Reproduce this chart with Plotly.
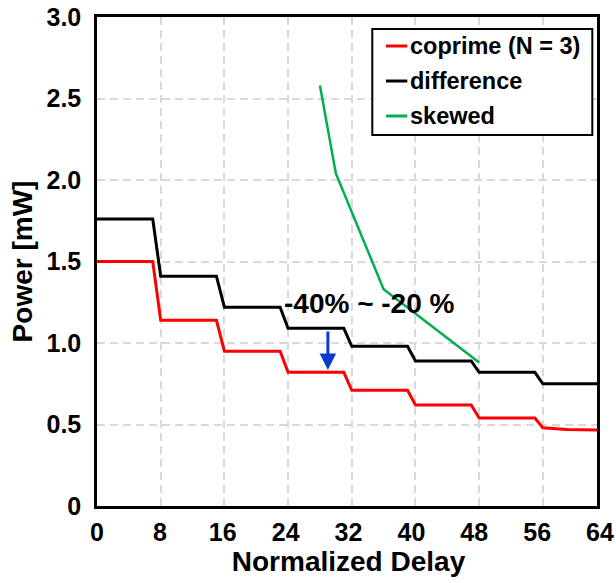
import plotly.graph_objects as go

# ---- data -------------------------------------------------------------
# staircase traces: each level is held until one unit before the next
# multiple of 8, then drops to the new level.
delay = [0, 7, 8, 15, 16, 23, 24, 31, 32, 39, 40, 47, 48, 55, 56, 64]
difference_power = [1.76, 1.76, 1.41, 1.41, 1.22, 1.22, 1.09, 1.09,
                    0.98, 0.98, 0.89, 0.89, 0.82, 0.82, 0.75, 0.75]

coprime_delay = [0, 7, 8, 15, 16, 23, 24, 31, 32, 39, 40, 47, 48, 55, 56, 59, 64]
coprime_power = [1.50, 1.50, 1.14, 1.14, 0.95, 0.95, 0.82, 0.82,
                 0.71, 0.71, 0.62, 0.62, 0.54, 0.54, 0.48, 0.47, 0.466]

skewed_delay = [28, 30, 36, 48]
skewed_power = [2.58, 2.04, 1.33, 0.88]

x_ticks = [0, 8, 16, 24, 32, 40, 48, 56, 64]
x_tick_text = ["0", "8", "16", "24", "32", "40", "48", "56", "64"]
y_ticks = [0, 0.5, 1.0, 1.5, 2.0, 2.5, 3.0]
y_tick_text = ["0", "0.5", "1.0", "1.5", "2.0", "2.5", "3.0"]

series_names = ["coprime (N = 3)", "difference", "skewed"]
series_colors = ["#ff0000", "#000000", "#00b050"]

FONT = "Liberation Sans, Arial, sans-serif"
GRID = "#d9d9d9"

fig = go.Figure()

# data subplot: xaxis2 / yaxis
fig.add_trace(go.Scatter(x=coprime_delay, y=coprime_power, mode="lines",
                         name=series_names[0], xaxis="x2", yaxis="y",
                         line=dict(color=series_colors[0], width=3)))
fig.add_trace(go.Scatter(x=delay, y=difference_power, mode="lines",
                         name=series_names[1], xaxis="x2", yaxis="y",
                         line=dict(color=series_colors[1], width=3)))
fig.add_trace(go.Scatter(x=skewed_delay, y=skewed_power, mode="lines",
                         name=series_names[2], xaxis="x2", yaxis="y",
                         line=dict(color=series_colors[2], width=2.5)))
# tick-label subplot: xaxis / yaxis2 (holds only the 0..64 labels and title)
fig.add_trace(go.Scatter(x=[], y=[], xaxis="x", yaxis="y2",
                         hoverinfo="skip", showlegend=False))

# ---- annotations --------------------------------------------------------
annotations = [
    dict(x=34.25, y=1.245, xref="x2", yref="y", text="-40% ~ -20 %",
         showarrow=False,
         font=dict(family=FONT, size=28, color="black", weight="bold")),
    dict(x=29, y=0.835, xref="x2", yref="y", ax=29, ay=1.08,
         axref="x2", ayref="y", text="", showarrow=True,
         arrowhead=2, arrowsize=1.1, arrowwidth=3, arrowcolor="#0a3ccc"),
]

# ---- legend box ---------------------------------------------------------
shapes = [
    dict(type="rect", xref="paper", yref="paper",
         x0=0.5473, x1=0.9847, y0=0.7587, y1=0.9755,
         line=dict(color="black", width=2), fillcolor="white", layer="above"),
]
legend_rows = [0.9407, 0.8691, 0.7975]
for name, color, yy in zip(series_names, series_colors, legend_rows):
    shapes.append(dict(type="line", xref="paper", yref="paper",
                       x0=0.5746, x1=0.6169, y0=yy, y1=yy,
                       line=dict(color=color, width=3), layer="above"))
    annotations.append(dict(x=0.6190, y=yy, xref="paper", yref="paper",
                            text=name, showarrow=False,
                            xanchor="left", yanchor="middle",
                            font=dict(family=FONT, size=23.5, color="black",
                                      weight="bold")))

fig.update_layout(
    width=616, height=583,
    margin=dict(l=97, r=16, t=17, b=77),
    paper_bgcolor="white",
    plot_bgcolor="rgba(0,0,0,0)",
    showlegend=False,
    font=dict(family=FONT, color="black"),
    shapes=shapes,
    annotations=annotations,
    # delay axis carrying the data and vertical grid
    xaxis2=dict(
        domain=[0, 500 / 503], range=[0, 62.8], anchor="y",
        tickvals=x_ticks[:-1], showticklabels=False, ticks="",
        showgrid=True, gridcolor=GRID, gridwidth=2, griddash="8px,5px",
        zeroline=False, showline=True, mirror=True,
        linecolor="black", linewidth=2.5, automargin=False,
    ),
    # delay tick labels 0..64 and axis title
    xaxis=dict(
        domain=[0, 1], range=[0, 64], anchor="y2",
        tickvals=x_ticks, ticktext=x_tick_text, ticks="",
        ticklabelstandoff=9,
        showgrid=False, zeroline=False, showline=False, automargin=False,
        tickfont=dict(family=FONT, size=25, color="black", weight="bold"),
        title=dict(text="Normalized Delay", standoff=6,
                   font=dict(family=FONT, size=28, color="black",
                             weight="bold")),
    ),
    yaxis=dict(
        range=[0, 3], anchor="x2",
        tickvals=y_ticks, ticktext=y_tick_text, ticks="",
        ticklabelstandoff=8,
        showgrid=True, gridcolor=GRID, gridwidth=2, griddash="8px,5px",
        zeroline=False, showline=True, mirror=True,
        linecolor="black", linewidth=2.5, automargin=False,
        tickfont=dict(family=FONT, size=25, color="black", weight="bold"),
        title=dict(text="Power [mW]", standoff=6,
                   font=dict(family=FONT, size=28, color="black",
                             weight="bold")),
    ),
    yaxis2=dict(range=[0, 3], anchor="x", domain=[0, 1], visible=False),
)

fig.write_html("out.html")
